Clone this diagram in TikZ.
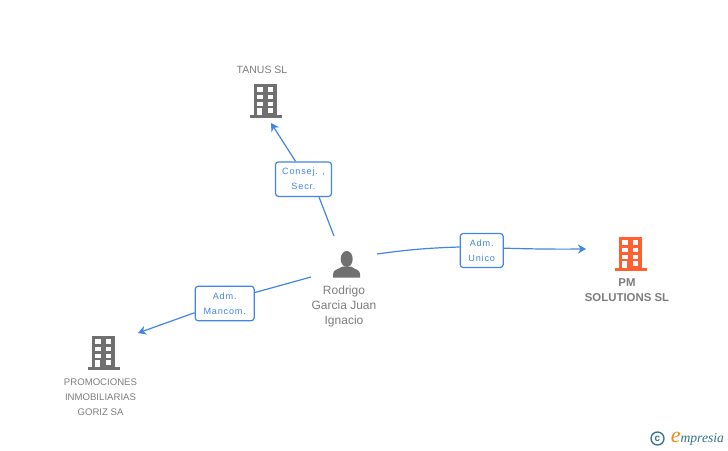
\documentclass[tikz,border=0pt]{standalone}
\usepackage{fontspec}
\usepackage{xcolor}
\setmainfont{Liberation Sans}
\newfontfamily\relfont[LetterSpace=9]{Liberation Sans}
\newfontfamily\logofont{Liberation Serif}
\usetikzlibrary{positioning,arrows.meta}
\definecolor{linkblue}{RGB}{66,133,232}
\definecolor{icongray}{RGB}{112,112,112}
\definecolor{textgray}{RGB}{125,125,125}
\definecolor{firmorange}{RGB}{255,96,48}
\definecolor{logoteal}{RGB}{52,116,138}
\definecolor{logoorange}{RGB}{240,136,24}
\tikzset{
	relbox/.style={draw=linkblue, line width=1.2pt, fill=white, rounded corners=3pt, align=center, text=linkblue, inner sep=0pt, font=\relfont\fontsize{9.1}{15}\selectfont},
	firmlabel/.style={align=center, text=textgray, inner sep=0pt, font=\fontsize{10.5}{15}\selectfont},
	link/.style={draw=linkblue, line width=1.2pt},
	headarrow/.style={-{Stealth[length=8pt,width=9pt,inset=2.5pt]}},
	building/.pic={
		\fill (-11.2,-16.5) rectangle (11.2,14.5);
		\fill (-16,14.5) rectangle (16,17.5);
		\foreach \yy in {-13.5,-6,1}{
			\fill[white] (-8.2,\yy) rectangle (-2.7,\yy+4.5);
			\fill[white] (2,\yy) rectangle (7.5,\yy+4.5);
		}
		\fill[white] (-8.2,7.5) rectangle (-3.5,14.5);
		\fill[white] (2,7.5) rectangle (7.5,12);
	}
}
\begin{document}
\begin{tikzpicture}[x=1pt,y=-1pt]
	\useasboundingbox (0,0) rectangle (728,450);
	
	% Companies
	\pic[icongray] at (265.5,100.5) {building};
	\node[firmlabel] (tanus) at (262,70) {TANUS SL};
	\pic[firmorange] at (630.5,253.5) {building};
	\node[firmlabel, font=\fontsize{11.4}{15}\selectfont] (pmsol) at (627,290) {\textbf{PM}\\\textbf{SOLUTIONS SL}};
	\pic[icongray] at (103.5,352.5) {building};
	\node[firmlabel, font=\fontsize{9.6}{15}\selectfont] (goriz) at (100.5,397) {PROMOCIONES\\INMOBILIARIAS\\GORIZ SA};
	
	% Person
	\fill[icongray] (346.7,259) ellipse (6 and 8);
	\fill[icongray] (333.2,277.7) -- (333.2,273.5) .. controls (333.5,269.5) and (338,269.5) .. (342.5,266.5) -- (351,266.5) .. controls (355,269.5) and (359.5,269.5) .. (360,273.5) -- (360,277.7) -- cycle;
	\node[firmlabel, font=\fontsize{12}{15}\selectfont] (rodrigo) at (344,306.5) {Rodrigo\\Garcia Juan\\Ignacio};
	
	% Role boxes
	\node[relbox, minimum width=56pt, minimum height=34.5pt] (consej) at (303.5,179.2) {Consej. ,\\Secr.};
	\node[relbox, minimum width=43pt, minimum height=34pt] (unico) at (481.7,250.5) {Adm.\\Unico};
	\node[relbox, minimum width=59pt, minimum height=34.5pt] (mancom) at (224.7,303.5) {Adm.\\Mancom.};
	
	% Free ends of the connectors
	\coordinate (topfrom) at (334,236);
	\coordinate (topto) at (271,123);
	\coordinate (rightfrom) at (377,254);
	\coordinate (rightto) at (586,249);
	\coordinate (leftfrom) at (311,277);
	\coordinate (leftto) at (138,333);
	
	% Connectors
	\draw[link] (topfrom) -- (consej.-49);
	\draw[link, headarrow] (consej.114) -- (topto);
	\draw[link] (rightfrom) to[bend left=3] (unico.171);
	\draw[link, headarrow] (unico.6) to[bend right=1] (rightto);
	\draw[link] (leftfrom) -- (mancom.20);
	\draw[link, headarrow] (mancom.197) -- (leftto);
	
	% Logo
	\node[draw=logoteal, line width=1.3pt, circle, inner sep=0pt, minimum size=13pt, text=logoteal, font=\fontsize{10}{10}\selectfont\bfseries] (copyr) at (657.5,438.5) {c};
	\node[right=6pt of copyr, inner sep=0pt, text=logoteal, font=\logofont\itshape\fontsize{13.6}{13.6}\selectfont] (logo) {\textcolor{logoorange}{\fontsize{22}{22}\selectfont e}mpresia};
\end{tikzpicture}
\end{document}
